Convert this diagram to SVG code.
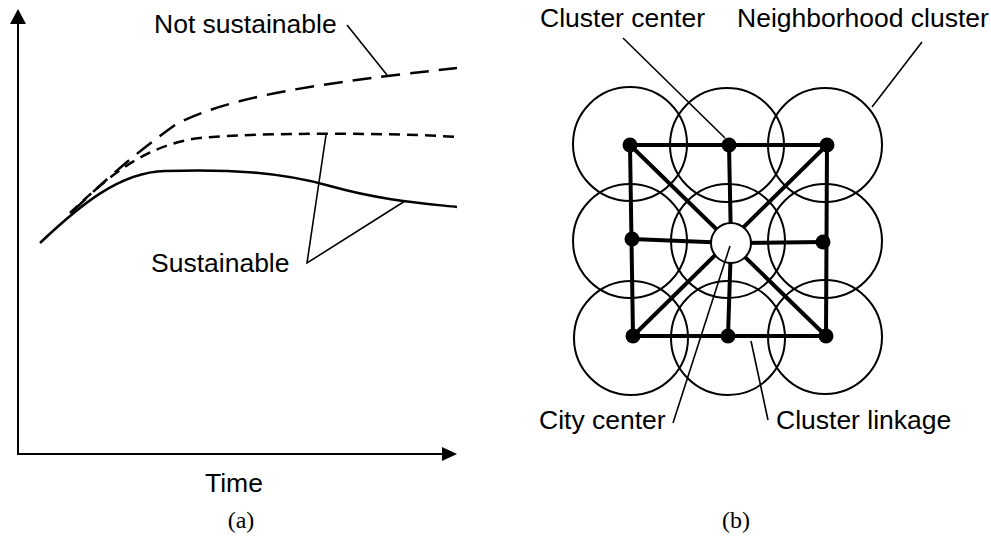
<svg xmlns="http://www.w3.org/2000/svg" width="991" height="538" viewBox="0 0 991 538">
<style>
.t{font-family:"Liberation Sans",Arial,sans-serif;font-size:26.5px;fill:#000}
.cap{font-family:"Liberation Serif","Times New Roman",serif;font-size:24px;fill:#000}
.curve{fill:none;stroke:#000;stroke-width:2.5}
.lead{fill:none;stroke:#000;stroke-width:1.6}
.ring{fill:none;stroke:#000;stroke-width:2}
.link{fill:none;stroke:#000;stroke-width:4}
.dot{fill:#000}
</style>
<rect width="991" height="538" fill="#fff"/>
<g id="panel-a">
  <g id="axes">
    <line x1="18" y1="22" x2="18" y2="454" stroke="#000" stroke-width="2"/>
    <line x1="17" y1="454" x2="444" y2="454" stroke="#000" stroke-width="2"/>
    <polygon points="18,9 26,24 10,24" fill="#000"/>
    <polygon points="457,454 442,447 442,461" fill="#000"/>
  </g>
  <g id="curves">
    <path class="curve" d="M72,212 C110,175 140,150 175,125 C230,95 330,82 457,68" stroke-dasharray="19 10"/>
    <path class="curve" d="M70,213 C100,185 140,145 200,138 C260,132 400,133 457,137" stroke-dasharray="11 7"/>
    <path class="curve" d="M40,243 C80,205 120,172 165,171 C230,169 280,172 330,186 C380,200 420,203 457,207"/>
  </g>
  <g id="leaders-a">
    <line class="lead" x1="347" y1="25" x2="387" y2="75"/>
    <polyline class="lead" points="326,135 307,263 405,201"/>
  </g>
  <text class="t" x="154" y="33">Not sustainable</text>
  <text class="t" x="151" y="272">Sustainable</text>
  <text class="t" x="205" y="492">Time</text>
  <text class="cap" x="241" y="528" text-anchor="middle">(a)</text>
</g>
<g id="panel-b">
  <g id="clusters">
    <circle class="ring" cx="630" cy="144" r="57"/>
    <circle class="ring" cx="727" cy="145" r="57"/>
    <circle class="ring" cx="825" cy="145" r="57"/>
    <circle class="ring" cx="630" cy="241" r="57"/>
    <circle class="ring" cx="728" cy="241" r="57"/>
    <circle class="ring" cx="825" cy="241" r="57"/>
    <circle class="ring" cx="631" cy="338" r="57"/>
    <circle class="ring" cx="728" cy="338" r="57"/>
    <circle class="ring" cx="825" cy="337" r="57"/>
  </g>
  <g id="linkages">
    <line class="link" x1="630" y1="145" x2="827" y2="145"/>
    <line class="link" x1="633" y1="336" x2="826" y2="336"/>
    <line class="link" x1="630" y1="145" x2="633" y2="336"/>
    <line class="link" x1="827" y1="145" x2="826" y2="336"/>
    <polyline class="link" points="729,145 731,243 728,336"/>
    <polyline class="link" points="632,239 731,243 823,242"/>
    <line class="link" x1="630" y1="145" x2="826" y2="336"/>
    <line class="link" x1="827" y1="145" x2="633" y2="336"/>
  </g>
  <g id="cluster-centers">
    <circle class="dot" cx="630" cy="145" r="7.5"/>
    <circle class="dot" cx="729" cy="145" r="7.5"/>
    <circle class="dot" cx="827" cy="145" r="7.5"/>
    <circle class="dot" cx="632" cy="239" r="7.5"/>
    <circle class="dot" cx="823" cy="242" r="7.5"/>
    <circle class="dot" cx="633" cy="336" r="7.5"/>
    <circle class="dot" cx="728" cy="336" r="7.5"/>
    <circle class="dot" cx="826" cy="336" r="7.5"/>
  </g>
  <g id="city-center">
    <circle cx="731" cy="243" r="20" fill="#fff" stroke="#000" stroke-width="2"/>
  </g>
  <g id="leaders-b">
    <line class="lead" x1="623" y1="38" x2="725" y2="138"/>
    <line class="lead" x1="922" y1="42" x2="872" y2="107"/>
    <line class="lead" x1="673" y1="423" x2="730" y2="246"/>
    <line class="lead" x1="768" y1="420" x2="751" y2="341"/>
  </g>
  <text class="t" x="540" y="27">Cluster center</text>
  <text class="t" x="737" y="27">Neighborhood cluster</text>
  <text class="t" x="539" y="429">City center</text>
  <text class="t" x="776" y="429">Cluster linkage</text>
  <text class="cap" x="736" y="528" text-anchor="middle">(b)</text>
</g>
</svg>
